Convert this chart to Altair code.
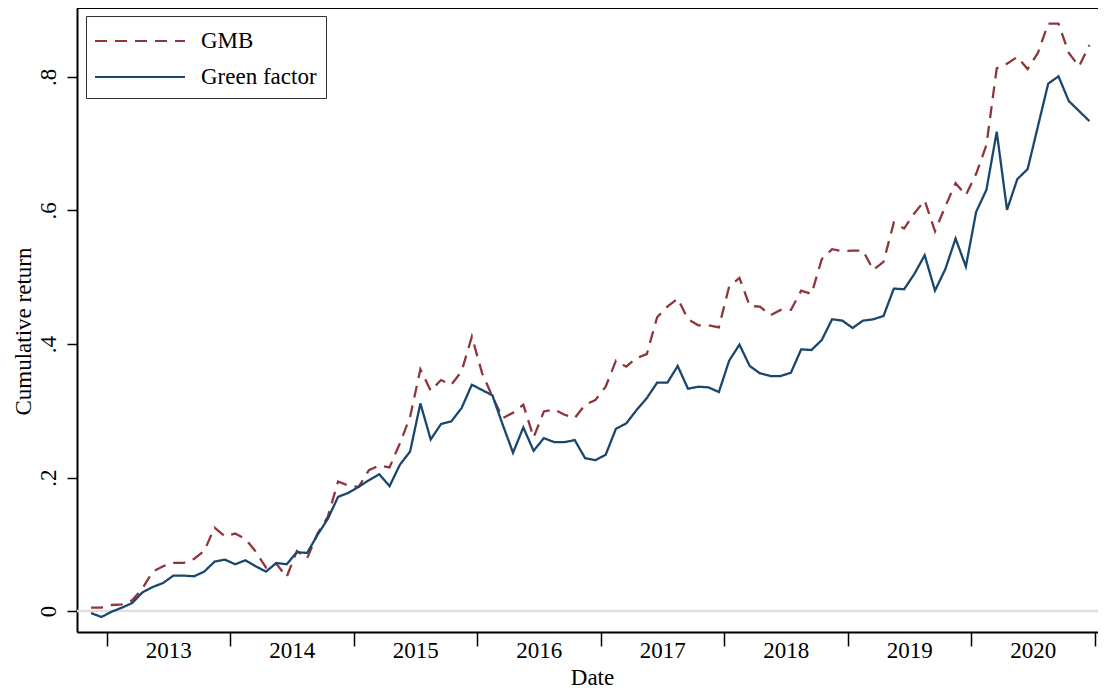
import altair as alt
import pandas as pd

# Monthly observations, Nov 2012 - Dec 2020
months = [str(p) for p in pd.period_range("2012-11", "2020-12", freq="M")]

gmb = [0.005, 0.005, 0.009, 0.010, 0.016, 0.034, 0.059, 0.067, 0.072, 0.072,
       0.078, 0.090, 0.125, 0.112, 0.116, 0.108, 0.089, 0.065, 0.071, 0.051,
       0.090, 0.079, 0.116, 0.141, 0.194, 0.188, 0.186, 0.211, 0.218, 0.215,
       0.251, 0.291, 0.362, 0.330, 0.346, 0.339, 0.359, 0.411, 0.356, 0.321,
       0.289, 0.297, 0.309, 0.260, 0.299, 0.302, 0.294, 0.289, 0.309, 0.316,
       0.336, 0.375, 0.366, 0.379, 0.385, 0.440, 0.456, 0.468, 0.437, 0.428,
       0.428, 0.425, 0.486, 0.499, 0.457, 0.456, 0.443, 0.451, 0.451, 0.480,
       0.475, 0.527, 0.542, 0.539, 0.540, 0.540, 0.511, 0.523, 0.582, 0.573,
       0.596, 0.615, 0.569, 0.606, 0.641, 0.623, 0.655, 0.698, 0.813, 0.820,
       0.830, 0.812, 0.836, 0.880, 0.880, 0.836, 0.816, 0.848]

green = [-0.003, -0.009, -0.001, 0.005, 0.012, 0.028, 0.036, 0.042, 0.053, 0.053,
         0.052, 0.059, 0.074, 0.077, 0.070, 0.076, 0.067, 0.059, 0.072, 0.070,
         0.088, 0.087, 0.114, 0.138, 0.171, 0.177, 0.186, 0.196, 0.205, 0.187,
         0.219, 0.239, 0.311, 0.257, 0.280, 0.284, 0.304, 0.339, 0.331, 0.323,
         0.279, 0.237, 0.275, 0.240, 0.259, 0.253, 0.253, 0.256, 0.229, 0.226,
         0.234, 0.273, 0.281, 0.301, 0.319, 0.342, 0.342, 0.367, 0.333, 0.336,
         0.335, 0.328, 0.375, 0.399, 0.367, 0.356, 0.352, 0.352, 0.357, 0.392,
         0.391, 0.406, 0.437, 0.435, 0.424, 0.435, 0.437, 0.442, 0.483, 0.482,
         0.505, 0.533, 0.480, 0.512, 0.558, 0.516, 0.598, 0.631, 0.718, 0.601,
         0.647, 0.662, 0.726, 0.790, 0.801, 0.764, 0.749, 0.734]

series_names = ["GMB", "Green factor"]
series_colors = ["#90353b", "#1a476f"]
year_ticks = [2013, 2014, 2015, 2016, 2017, 2018, 2019, 2020, 2021]
year_labels = [2013.5, 2014.5, 2015.5, 2016.5, 2017.5, 2018.5, 2019.5, 2020.5]
y_ticks = [0, 0.2, 0.4, 0.6, 0.8]

# decimal-year position at mid-month
t = [int(m[:4]) + (int(m[5:7]) - 0.5) / 12 for m in months]

df = pd.DataFrame({
    "t": t + t,
    "value": gmb + green,
    "series": [series_names[0]] * len(gmb) + [series_names[1]] * len(green),
})

FONT = "Liberation Serif"
W, H = 1021, 624

x_scale = alt.Scale(domain=[2012.7611, 2021.0283], nice=False, zero=False)
y_scale = alt.Scale(domain=[-0.03146, 0.90337], nice=False, zero=False)

xaxis = alt.Axis(
    values=sorted(year_ticks + year_labels),
    labelExpr="datum.value % 1 == 0.5 ? '' + floor(datum.value) : ''",
    tickOpacity={"condition": {"test": "datum.value % 1 != 0", "value": 0}, "value": 1},
    tickSize=14, tickWidth=1.5, tickColor="black",
    domainColor="black", domainWidth=2,
    labelFont=FONT, labelFontSize=23, labelColor="black",
    labelBaseline="alphabetic", labelPadding=11,
    labelFlush=False, labelOverlap=False, labelBound=False,
    grid=False,
    title="Date", titleFont=FONT, titleFontSize=23, titleFontWeight="normal",
    titleColor="black", titleX=515, titleY=52, titleAlign="center",
    titleBaseline="alphabetic",
)

yaxis = alt.Axis(
    values=y_ticks,
    labelExpr="datum.value == 0 ? '0' : substring(format(datum.value, '.1f'), 1)",
    labelAngle=270, labelAlign="center", labelBaseline="alphabetic",
    labelPadding=12, labelFont=FONT, labelFontSize=23, labelColor="black",
    tickSize=10, tickWidth=1.5, tickColor="black",
    domainColor="black", domainWidth=2, grid=False,
    title="Cumulative return", titleFont=FONT, titleFontSize=23,
    titleFontWeight="normal", titleColor="black", titleAngle=270,
    titleX=-47, titleY=323, titleAlign="center", titleBaseline="alphabetic",
)

# long horizontal stroke symbol: path in unit box scaled by sqrt(size)/2 = 15 -> 90px long
legend = alt.Legend(
    orient="none", legendX=9, legendY=8, title=None,
    symbolType="M-3,0H3", symbolSize=900, symbolStrokeWidth=2, symbolOffset=29,
    labelFont=FONT, labelFontSize=23, labelColor="black", labelOffset=45,
    padding=9, strokeColor="#333333", fillColor="white", rowPadding=8,
)

zero = alt.Chart(pd.DataFrame({"y": [0]})).mark_rule(
    color="#e0e0e0", strokeWidth=2.5
).encode(y=alt.Y("y:Q", scale=y_scale, axis=yaxis))

lines = alt.Chart(df).mark_line(strokeWidth=2.3).encode(
    x=alt.X("t:Q", scale=x_scale, axis=xaxis),
    y=alt.Y("value:Q", scale=y_scale, axis=yaxis),
    color=alt.Color("series:N", scale=alt.Scale(domain=series_names, range=series_colors),
                    legend=legend),
    strokeDash=alt.StrokeDash("series:N",
                              scale=alt.Scale(domain=series_names, range=[[12, 8], [1, 0]]),
                              legend=legend),
)

topline = alt.Chart(pd.DataFrame({"a": [0]})).mark_rule(
    color="black", strokeWidth=2
).encode(x=alt.value(0), x2=alt.value(W), y=alt.value(0))

chart = alt.layer(zero, lines, topline).properties(
    width=W, height=H,
    autosize=alt.AutoSizeParams(type="none"),
    padding={"left": 69, "top": 0, "right": 0, "bottom": 62},
).configure_view(stroke=None).configure(font=FONT, background="white")

chart.save("out.html", embed_options={"renderer": "svg", "actions": False})
